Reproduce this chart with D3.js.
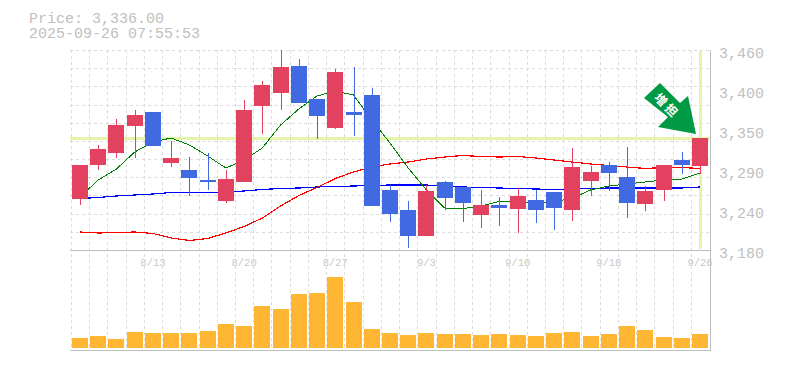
<!DOCTYPE html>
<html>
<head>
<meta charset="utf-8">
<script src="https://cdnjs.cloudflare.com/ajax/libs/d3/7.8.5/d3.min.js"></script>
<style>
  html, body { margin: 0; padding: 0; background: #fff; }
  svg { display: block; }
  text { font-family: "Liberation Mono", monospace; fill: #c0c0c0; }
</style>
</head>
<body>
<div id="chart"></div>
<script>
// data ---------------------------------------------------------------------------------------
const tickDates = ['8/13', '8/20', '8/27', '9/3', '9/10', '9/18', '9/26'];
const priceLabels = [3460, 3400, 3350, 3290, 3240, 3180];
const open = [3251, 3298, 3315, 3353, 3372, 3301, 3291, 3277, 3248, 3274, 3381, 3399, 3437, 3391, 3350, 3372, 3396, 3263, 3235, 3199, 3274, 3268, 3228, 3242, 3237, 3249, 3260, 3235, 3276, 3298, 3281, 3244, 3263, 3305, 3297];
const high = [3298, 3326, 3363, 3375, 3372, 3332, 3310, 3315, 3291, 3389, 3416, 3459, 3447, 3391, 3433, 3436, 3406, 3270, 3248, 3270, 3276, 3268, 3263, 3254, 3266, 3263, 3260, 3322, 3297, 3302, 3323, 3269, 3298, 3316, 3336];
const low = [3242, 3291, 3308, 3308, 3325, 3296, 3255, 3263, 3245, 3274, 3342, 3375, 3385, 3335, 3349, 3339, 3241, 3218, 3182, 3199, 3235, 3218, 3210, 3213, 3203, 3217, 3207, 3220, 3255, 3262, 3224, 3234, 3248, 3286, 3286];
const close = [3298, 3321, 3354, 3368, 3325, 3308, 3280, 3274, 3279, 3375, 3410, 3436, 3385, 3367, 3428, 3368, 3241, 3230, 3199, 3262, 3252, 3245, 3242, 3238, 3255, 3235, 3238, 3296, 3288, 3287, 3245, 3262, 3298, 3298, 3336];
const maShort = [3253.5, 3277.3, 3292.7, 3316.5, 3330.5, 3336.1, 3326.3, 3310.9, 3294.1, 3305.3, 3322.1, 3354.3, 3376.7, 3394.9, 3401.9, 3396.3, 3361.3, 3329.1, 3294.1, 3263.3, 3238.1, 3237.4, 3240.9, 3247.2, 3246.5, 3246.5, 3246.5, 3252.1, 3263.3, 3268.9, 3271.7, 3274.5, 3277.3, 3278.7, 3287.1];
const maMiddle = [3204.5, 3203.1, 3203.8, 3204.5, 3202.4, 3196.1, 3192.6, 3195.4, 3203.1, 3212.2, 3224.1, 3240.9, 3255.6, 3266.8, 3279.4, 3288.5, 3295.5, 3299.7, 3302.5, 3306.7, 3309.5, 3311.6, 3310.2, 3309.5, 3310.2, 3308.1, 3305.3, 3302.5, 3299.7, 3297.6, 3295.5, 3293.4, 3294.8, 3294.8, 3293.4];
const maLong = [3251.4, 3252.8, 3254.9, 3256.3, 3257.7, 3259.8, 3259.8, 3259.8, 3260.5, 3261.9, 3264, 3265.4, 3266.1, 3267.5, 3268.2, 3268.9, 3269.6, 3270.3, 3270.3, 3270.3, 3268.9, 3267.5, 3266.8, 3266.1, 3265.4, 3264.7, 3264, 3264.7, 3265.4, 3266.1, 3266.1, 3266.1, 3266.1, 3266.1, 3267.5];
const volume = [100, 120, 90, 160, 150, 150, 150, 170, 240, 220, 420, 390, 540, 550, 710, 460, 190, 150, 130, 150, 140, 140, 130, 140, 130, 120, 150, 160, 120, 140, 220, 180, 110, 100, 140];
const lastPrice = 3336;
// --------------------------------------------------------------------------------------------
const width = 785;
const height = 370;
const count = open.length;
const red = '#e2415f';
const blue = '#4169e1';
const gridColor = '#dcdcdc';
const frameColor = '#bdbdbd';
const lastColor = '#e4f5a8';

const svg = d3.select('#chart').append('svg')
  .attr('width', width)
  .attr('height', height);

const x = d3.scaleLinear().domain([0, count - 1]).range([80, 700]);
const y = d3.scaleLinear().domain([3180, 3460]).range([249.5, 49.5]);
const yVol = d3.scaleLinear().domain([0, 710]).range([348, 277]);
const barW = 16;
const barLeft = i => Math.round(x(i)) - barW / 2;
const barMid = i => Math.round(x(i));

// 見出し----------------------------------------------------------------------------------------
const head = svg.append('g').attr('font-size', '15px');
head.append('text').attr('x', 29).attr('y', 23).text('Price: ' + d3.format(',.2f')(lastPrice));
head.append('text').attr('x', 29).attr('y', 38).text('2025-09-26 07:55:53');

// 日付ラベル(グリッドの下に描く)---------------------------------------------------------------
svg.append('g').attr('font-size', '10.5px')
  .selectAll('text')
  .data(tickDates)
  .enter()
  .append('text')
  .attr('x', (d, i) => x(4 + i * 5))
  .attr('y', 266)
  .attr('text-anchor', 'middle')
  .style('fill', '#c8c8c8')
  .text(d => d);

// グリッド---------------------------------------------------------------------------------------
const grid = svg.append('g')
  .attr('stroke', gridColor)
  .attr('stroke-dasharray', '3,3')
  .attr('shape-rendering', 'crispEdges');
d3.range(count).forEach(i => {
  const gx = Math.round(x(i) - (x(1) - x(0)) / 2) + 0.5;
  grid.append('line').attr('x1', gx).attr('x2', gx).attr('y1', 50).attr('y2', 350);
});
d3.range(11).forEach(i => {
  const gy = Math.round(50 + i * 200 / 11) + 0.5;
  grid.append('line').attr('x1', 70).attr('x2', 710).attr('y1', gy).attr('y2', gy);
});

// 現在値ライン-----------------------------------------------------------------------------------
svg.append('rect')
  .attr('x', 70).attr('width', 640)
  .attr('y', Math.round(y(lastPrice)) - 1).attr('height', 3)
  .attr('fill', lastColor);
svg.append('rect')
  .attr('x', barMid(count - 1) - 1).attr('width', 3)
  .attr('y', 50).attr('height', 199)
  .attr('fill', lastColor);

// 枠-------------------------------------------------------------------------------------------
const frame = svg.append('g').attr('stroke', frameColor).attr('shape-rendering', 'crispEdges');
frame.append('line').attr('x1', 70).attr('x2', 711).attr('y1', 250.5).attr('y2', 250.5);
frame.append('line').attr('x1', 70).attr('x2', 711).attr('y1', 350.5).attr('y2', 350.5);
frame.append('line').attr('x1', 710.5).attr('x2', 710.5).attr('y1', 50).attr('y2', 351);

// 移動平均--------------------------------------------------------------------------------------
const line = d3.line().x((d, i) => x(i)).y(d => y(d));
[[maLong, '#0000ff', 1.2], [maMiddle, '#ff0000', 1.2], [maShort, '#008000', 1]].forEach(([s, c, w]) => {
  svg.append('path')
    .attr('d', line(s))
    .attr('fill', 'none')
    .attr('stroke', c)
    .attr('stroke-width', w)
    .attr('shape-rendering', 'crispEdges');
});

// ローソク足------------------------------------------------------------------------------------
const candle = svg.append('g').attr('shape-rendering', 'crispEdges');
d3.range(count).forEach(i => {
  const c = close[i] >= open[i] ? red : blue;
  const top = Math.round(y(Math.max(open[i], close[i])));
  const bottom = Math.round(y(Math.min(open[i], close[i])));
  candle.append('rect')
    .attr('x', barMid(i) - 0.5).attr('width', 1)
    .attr('y', Math.round(y(high[i])))
    .attr('height', Math.round(y(low[i])) - Math.round(y(high[i])))
    .attr('fill', c);
  candle.append('rect')
    .attr('x', barLeft(i)).attr('width', barW)
    .attr('y', top).attr('height', Math.max(bottom - top, 1))
    .attr('fill', c);
});

// 出来高----------------------------------------------------------------------------------------
svg.append('g').attr('shape-rendering', 'crispEdges')
  .selectAll('rect')
  .data(volume)
  .enter()
  .append('rect')
  .attr('x', (d, i) => barLeft(i))
  .attr('width', barW)
  .attr('y', d => yVol(d))
  .attr('height', d => yVol(0) - yVol(d))
  .attr('fill', '#ffb733');

// 軸ラベル--------------------------------------------------------------------------------------
svg.append('g').attr('font-size', '15px')
  .selectAll('text')
  .data(priceLabels)
  .enter()
  .append('text')
  .attr('x', 719)
  .attr('y', (d, i) => 58 + i * 40)
  .text(d => d3.format(',')(d));

// 矢印-----------------------------------------------------------------------------------------
const arrow = svg.append('g')
  .attr('transform', 'translate(' + barMid(count - 1) + ',' + y(lastPrice) + ')');
arrow.append('polygon')
  .attr('points', '-40,-55 -20,-35 -12,-42 -4,-4 -42,-11 -32,-21 -56,-40')
  .attr('fill', '#009944');
arrow.append('text')
  .attr('transform', 'translate(-33,-32) rotate(45)')
  .attr('font-size', '12px')
  .attr('text-anchor', 'middle')
  .attr('dy', '0.35em')
  .style('letter-spacing', '3px')
  .style('font-family', '"Noto Sans CJK JP"')
  .style('font-weight', 'bold')
  .style('fill', '#fff')
  .text('増担');
</script>
</body>
</html>
